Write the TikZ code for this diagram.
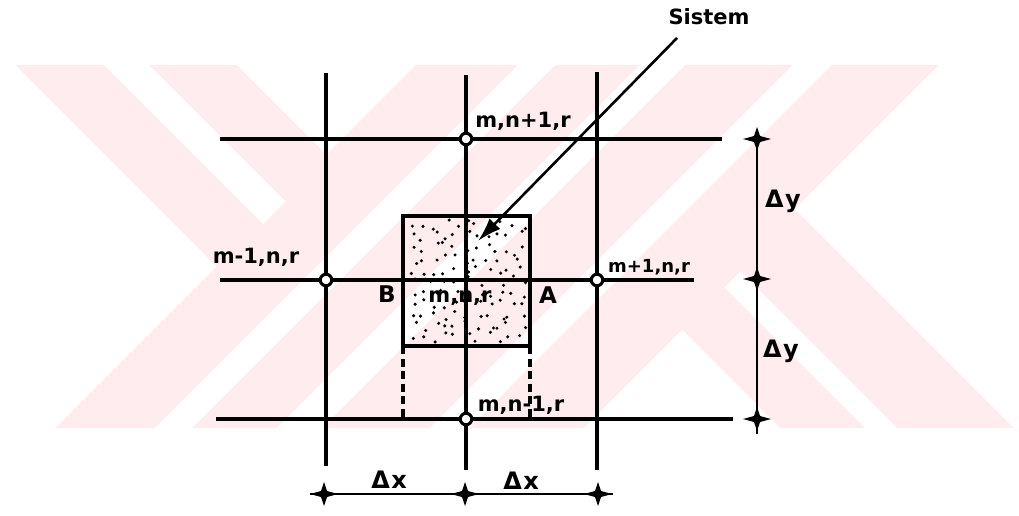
\documentclass[tikz,border=0pt]{standalone}
\usepackage{fontspec}
\setmainfont{DejaVu Sans}
\newfontfamily\hand{DejaVu Sans}
\newfontfamily\handw[LetterSpace=6]{DejaVu Sans}
\usetikzlibrary{arrows.meta}
\definecolor{wmpink}{RGB}{254,236,239}
\begin{document}
\begin{tikzpicture}[x=1pt,y=-1pt,
  gridline/.style={line width=3.2pt},
  dimline/.style={line width=2.3pt},
  boxline/.style={draw,line width=3.6pt,inner sep=0pt,outer sep=0pt,minimum width=127pt,minimum height=130pt},
  dashline/.style={line width=3.2pt,dash pattern=on 8pt off 4.5pt},
  gridpt/.style={circle,draw,fill=white,line width=3pt,minimum size=11.5pt,inner sep=0pt},
  lab/.style={font=\hand\bfseries\fontsize{21}{22}\selectfont,inner sep=0pt,anchor=base},
  labs/.style={font=\hand\bfseries\fontsize{18}{19}\selectfont,inner sep=0pt,anchor=base},
  letter/.style={font=\hand\bfseries\fontsize{23}{24}\selectfont,inner sep=0pt,anchor=base},
  dimlab/.style={font=\handw\bfseries\fontsize{24}{25}\selectfont,inner sep=0pt,anchor=base},
  arrowline/.style={line width=2.6pt,-{Latex[length=24pt,width=15pt]}},
  dimtick/.pic={\fill (-14,0) -- (-3,-3) -- (0,-12) -- (3,-3) -- (14,0) -- (3,3) -- (0,12) -- (-3,3) -- cycle;
                \fill (0,0) circle (4.5pt);}
]
\useasboundingbox (0,0) rectangle (1019,516);
% ---- watermark ----
\fill[wmpink] (0,65) rectangle (1019,428);
\fill[white] (0,65) -- (15,65) -- (216.5,266.5) -- (55,428) -- (0,428) -- cycle;
\fill[white] (104,65) -- (149,65) -- (285.5,201.5) -- (263,224) -- cycle;
\fill[white] (237,65) -- (416,65) -- (326.5,154.5) -- cycle;
\fill[white] (518,65) -- (555,65) -- (192,428) -- (155,428) -- cycle;
\fill[white] (640,65) -- (685,65) -- (322,428) -- (277,428) -- cycle;
\fill[white] (793,65) -- (832,65) -- (469,428) -- (430,428) -- cycle;
\fill[white] (584,428) -- (682,330) -- (780,428) -- cycle;
\fill[white] (865,428) -- (897,428) -- (740.5,271.5) -- (724.5,287.5) -- cycle;
\fill[white] (939,65) -- (1019,65) -- (1019,428) -- (1014,428) -- (795,209) -- cycle;
% ---- grid ----
\coordinate (v1t) at (326,73);  \coordinate (v1b) at (326,466);
\coordinate (v2t) at (466,75);  \coordinate (v2b) at (466,470);
\coordinate (v3t) at (597,72);  \coordinate (v3b) at (597,470);
\coordinate (h1l) at (220,139); \coordinate (h1r) at (722,139);
\coordinate (h2l) at (220,280); \coordinate (h2r) at (694,280);
\coordinate (h3l) at (216,419); \coordinate (h3r) at (733,419);
\draw[gridline] (v1t) -- (v1b);
\draw[gridline] (v2t) -- (v2b);
\draw[gridline] (v3t) -- (v3b);
\draw[gridline] (h1l) -- (h1r);
\draw[gridline] (h2l) -- (h2r);
\draw[gridline] (h3l) -- (h3r);
% ---- system box ----
\node[boxline] (sys) at (466.5,281) {};
\pgfmathsetseed{7}
\foreach \i in {0,...,10}{
  \foreach \j in {0,...,10}{
    \pgfmathsetmacro{\dx}{413+10.8*\i+5*rand}
    \pgfmathsetmacro{\dy}{225+11.2*\j+5*rand}
    \fill (\dx,\dy) circle (1.7pt);
  }
}
\coordinate (dl) at (403,419);
\coordinate (dr) at (530,419);
\draw[dashline] (sys.south west) -- (dl);
\draw[dashline] (sys.south east) -- (dr);
% ---- grid points ----
\node[gridpt] (nN) at (466,139) {};
\node[gridpt] (nW) at (326,280) {};
\node[gridpt] (nE) at (597,280) {};
\node[gridpt] (nS) at (466,419) {};
% ---- labels ----
\node[lab] (lN) at (523,128) {m,n+1,r};
\node[lab] (lW) at (256,263) {m-1,n,r};
\node[labs] (lE) at (649,272) {m+1,n,r};
\node[lab] (lC) at (460,302) {m,n,r};
\node[lab] (lS) at (521,411) {m,n-1,r};
\node[letter] (lB) at (387,302) {B};
\node[letter] (lA) at (548,303) {A};
% ---- Sistem arrow ----
\node[lab] (sis) at (709,25) {Sistem};
\coordinate (arT) at (677,38);
\coordinate (arH) at (478,241);
\draw[arrowline] (arT) -- (arH);
% ---- right dimension ----
\coordinate (dyT) at (757,130);
\coordinate (dyB) at (757,434);
\draw[dimline] (dyT) -- (dyB);
\pic at (757,139) {dimtick};
\pic at (757,279) {dimtick};
\pic at (757,419) {dimtick};
\node[dimlab] (dy1) at (783,207) {Δy};
\node[dimlab] (dy2) at (781,357) {Δy};
% ---- bottom dimension ----
\coordinate (dxL) at (310,494);
\coordinate (dxR) at (613,494);
\draw[dimline] (dxL) -- (dxR);
\pic at (324,494) {dimtick};
\pic at (465,494) {dimtick};
\pic at (598,494) {dimtick};
\node[dimlab] (dx1) at (389,488) {Δx};
\node[dimlab] (dx2) at (521,489) {Δx};
\end{tikzpicture}
\end{document}
